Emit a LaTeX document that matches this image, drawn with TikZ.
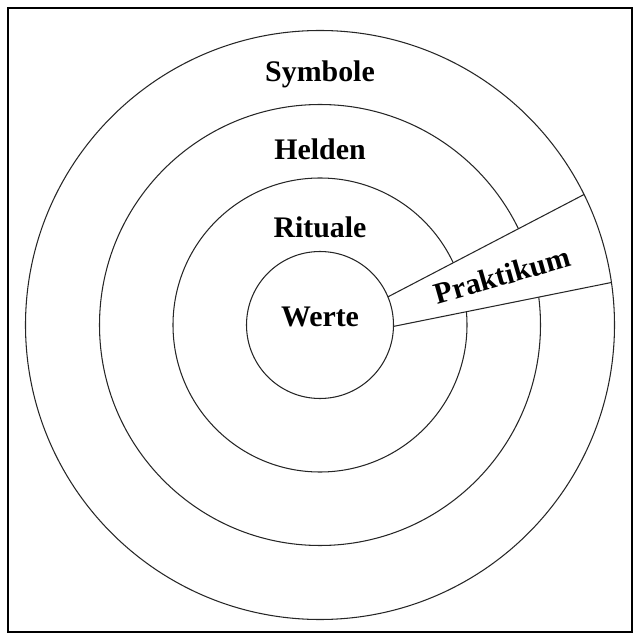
\documentclass[tikz,border=0pt]{standalone}
\usepackage{fontspec}
\setmainfont{Liberation Serif}
\usepackage{tikz}
\usetikzlibrary{calc}

\begin{document}
\begin{tikzpicture}[
        ring/.style={draw=black!85, line width=0.6pt},
        layer/.style={font=\fontsize{17}{20}\selectfont\bfseries, anchor=base, inner sep=0pt},
        edge/.style={draw=black!85, line width=0.6pt}
    ]
        \useasboundingbox (0,0) rectangle (12.76,12.78);
        \draw[line width=0.9pt] (0.16,0.14) rectangle (12.64,12.62);

        % Centre and wedge corners
        \coordinate (c) at (6.40,6.28);
        \coordinate (ui) at ($(c)+(22.5:1.47)$);
        \coordinate (uo) at ($(c)+(26.3:5.89)$);
        \coordinate (li) at ($(c)+(-1.1:1.47)$);
        \coordinate (lo) at ($(c)+(8.3:5.89)$);

        % Rings
        \draw[ring] (c) circle[radius=2.94cm];
        \draw[ring] (c) circle[radius=4.41cm];
        \fill[white] (ui) -- ($(ui)!1.05!(uo)$) -- ($(li)!1.05!(lo)$) -- (li) -- cycle;
        \draw[ring] (c) circle[radius=1.47cm];
        \draw[ring] (c) circle[radius=5.89cm];

        % Wedge
        \draw[edge] (ui) -- (uo);
        \draw[edge] (li) -- (lo);

        % Labels
        \node[layer] (symbole) at (6.40,11.14) {Symbole};
        \node[layer] (helden) at (6.40,9.58) {Helden};
        \node[layer] (rituale) at (6.40,8.02) {Rituale};
        \node[layer] (werte) at (6.40,6.24) {Werte};
        \node[layer, rotate=16] (praktikum) at (10.10,7.08) {Praktikum};
    \end{tikzpicture}
\end{document}
